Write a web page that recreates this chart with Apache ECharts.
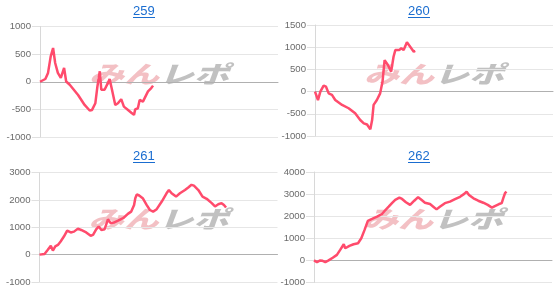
<!DOCTYPE html>
<html><head><meta charset="utf-8">
<script src="https://cdn.jsdelivr.net/npm/echarts@6/dist/echarts.min.js"></script>
<style>html,body{margin:0;padding:0;background:#fff}#c{width:555px;height:290px}</style>
</head><body><div id="c"></div>
<script>
const titles = ['259', '260', '261', '262'];

const games259 = [0,180,270,360,440,510,600,700,810,880,1000,1280,1500,1670,1750,1860,1930,2010,2060,2170,2280,2340,2420,2530,2620,2730,2820,2960,3070,3160,3200,3290,3350,3460,3520,3630,3740,3800];
const diff259  = [0,50,160,460,610,340,160,70,250,5,-55,-240,-420,-520,-510,-390,-85,190,-145,-145,-25,50,-145,-420,-390,-315,-450,-510,-560,-600,-500,-480,-330,-360,-390,-175,-115,-70];

const games260 = [0,100,140,180,290,370,460,570,680,910,1130,1350,1520,1640,1750,1860,1920,1970,2080,2190,2270,2340,2450,2560,2640,2700,2830,2900,2980,3090,3200,3320,3370];
const diff260  = [0,-190,-225,0,135,110,-40,-75,-190,-300,-375,-490,-640,-715,-740,-850,-640,-300,-190,-40,225,710,600,450,785,935,935,975,935,1110,1010,900,915];

const games261 = [0,60,170,260,380,450,530,620,710,820,930,1050,1160,1290,1400,1570,1720,1800,1910,1990,2080,2190,2300,2390,2500,2640,2810,2970,3080,3180,3220,3270,3350,3470,3600,3710,3820,3940,4110,4270,4350,4440,4590,4720,4890,5000,5110,5190,5340,5480,5620,5790,5900,6010,6120,6200,6270];
const diff261  = [0,-35,25,150,320,150,300,355,480,660,880,810,840,950,900,810,690,720,930,1025,900,930,1290,1150,1170,1240,1330,1490,1570,1815,2060,2200,2160,2060,1815,1630,1570,1660,1940,2240,2360,2240,2120,2240,2360,2450,2550,2520,2360,2120,2040,1880,1760,1840,1880,1815,1720];

const games262 = [0,100,210,290,380,490,630,770,880,1000,1050,1190,1330,1480,1590,1700,1810,1950,2120,2280,2400,2510,2620,2730,2870,2960,3090,3230,3370,3500,3620,3730,3900,4010,4120,4230,4400,4570,4740,4910,5050,5130,5210,5360,5520,5690,5840,5980,6080,6220,6310,6360,6420,6470];
const diff262  = [0,-80,0,-20,-80,0,120,250,475,730,550,655,730,775,1000,1380,1790,1875,1980,2090,2280,2430,2590,2740,2840,2780,2630,2510,2700,2860,2730,2610,2550,2430,2310,2430,2590,2660,2770,2880,3010,3110,2960,2810,2700,2610,2510,2390,2460,2550,2590,2810,3040,3110];

const yMins = [-1000, -1000, -1000, -1000];
const yMaxs = [1000, 1500, 3000, 4000];
const yIntervals = [500, 500, 1000, 1000];
const xMax = 8000;

const seriesGames = [games259, games260, games261, games262];
const seriesDiff = [diff259, diff260, diff261, diff262];

const grids = [
  {left: 40, top: 26.5, width: 238, height: 110.5},
  {left: 315, top: 25, width: 238, height: 111},
  {left: 39.5, top: 172.5, width: 238, height: 109.5},
  {left: 314, top: 172, width: 238, height: 110.5}
];
const offsets = [[0,0],[275,0],[0,145],[275,145]];

const chart = echarts.init(document.getElementById('c'), null, {renderer: 'canvas'});

const graphics = [];
titles.forEach((t, i) => {
  const [ox, oy] = offsets[i];
  const g = grids[i];
  graphics.push({
    type: 'text', left: ox + 144 - 11, top: oy + 5, z: 10,
    style: {text: t, fill: '#1a6dd0', font: '13px "Liberation Sans", Arial, sans-serif'}
  });
  graphics.push({
    type: 'rect', left: ox + 133, top: oy + 17, z: 10,
    shape: {width: 22, height: 1}, style: {fill: '#1a6dd0'}
  });
  const cx = g.left + g.width / 2;
  const cy = oy + 74;
  graphics.push({
    type: 'text', x: cx - 70, y: cy - 12, z: 0, scaleY: 0.68,
    style: {text: 'みん', fill: 'rgba(232,130,138,0.5)', font: 'italic 900 35px "Noto Sans CJK JP"'}
  });
  graphics.push({
    type: 'text', x: cx - 0, y: cy - 12, z: 0, scaleY: 0.68,
    style: {text: 'レポ', fill: 'rgba(160,160,160,0.65)', font: 'italic 900 35px "Noto Sans CJK JP"'}
  });
});

const option = {
  animation: false,
  grid: grids,
  graphic: graphics,
  xAxis: grids.map((g, i) => ({
    type: 'value', gridIndex: i, min: 0, max: xMax,
    axisLine: {show: true, onZero: true, lineStyle: {color: '#b0b0b0', width: 1}},
    axisTick: {show: false}, axisLabel: {show: false}, splitLine: {show: false}
  })),
  yAxis: grids.map((g, i) => ({
    type: 'value', gridIndex: i, min: yMins[i], max: yMaxs[i], interval: yIntervals[i],
    axisLine: {show: true, lineStyle: {color: '#d8d8d8'}},
    axisTick: {show: true, length: 8, lineStyle: {color: '#e0e0e0'}},
    axisLabel: {margin: 9, color: '#6b6b6b', fontSize: 9.6, fontFamily: '"Liberation Sans", Arial, sans-serif',
      formatter: v => String(v)},
    splitLine: {show: true, lineStyle: {color: '#e6e6e6', width: 1}}
  })),
  series: seriesDiff.map((d, i) => ({
    type: 'line', xAxisIndex: i, yAxisIndex: i, z: 5,
    data: d.map((v, k) => [seriesGames[i][k], v]),
    showSymbol: false, symbol: 'none',
    lineStyle: {color: '#ff4b6c', width: 2.5}
  }))
};
chart.setOption(option);
</script>
</body></html>
